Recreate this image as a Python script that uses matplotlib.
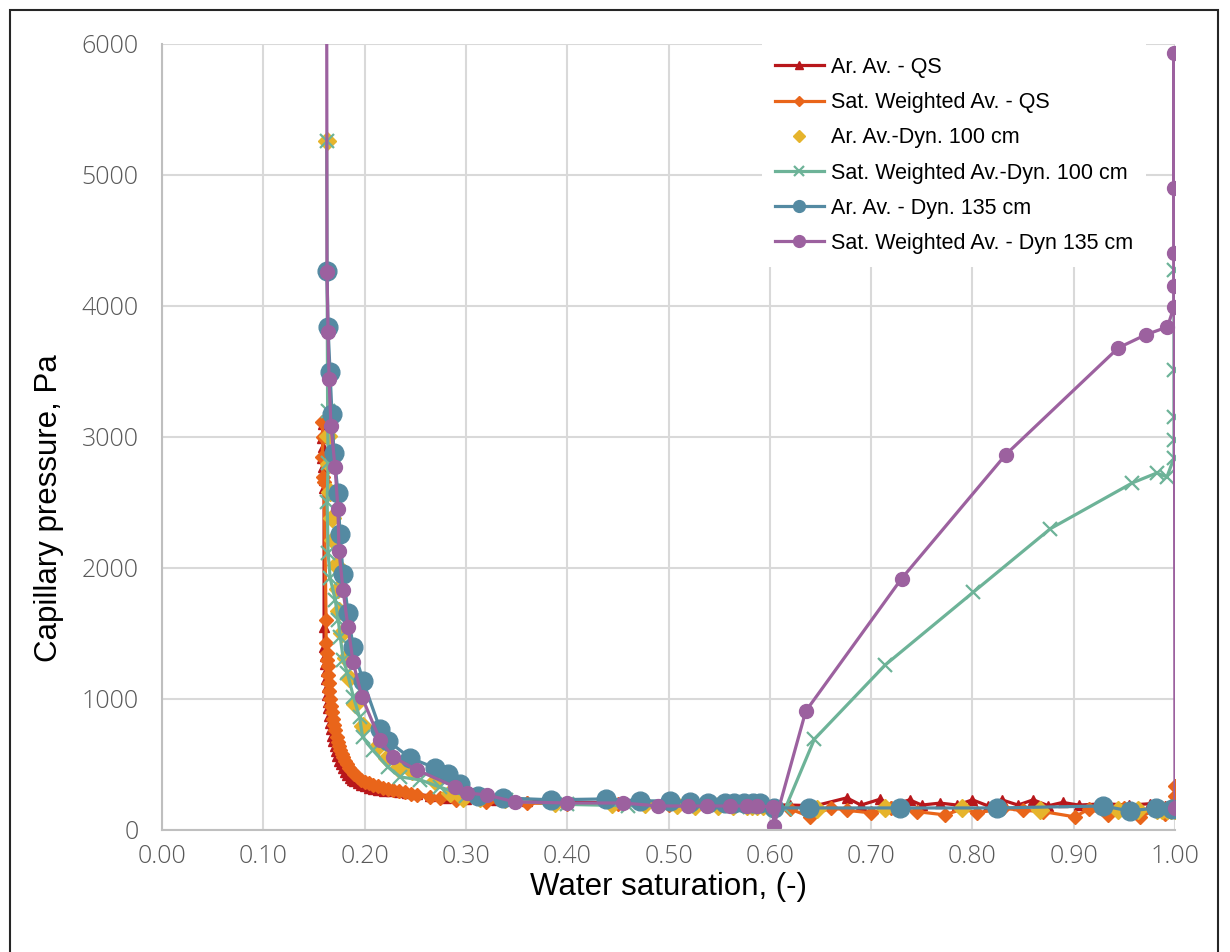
import matplotlib
matplotlib.use("Agg")
import matplotlib.pyplot as plt
from matplotlib.patches import Rectangle

# Ar. Av. - QS
qs_ar_sw = [0.159, 0.158, 0.159, 0.158, 0.159, 0.160, 0.160, 0.160, 0.160, 0.161,
            0.161, 0.162, 0.162, 0.163, 0.163, 0.164, 0.164, 0.165, 0.166, 0.167,
            0.168, 0.169, 0.171, 0.172, 0.173, 0.175, 0.177, 0.179, 0.181, 0.183,
            0.186, 0.188, 0.190, 0.193, 0.196, 0.200, 0.204, 0.208, 0.213, 0.219,
            0.226, 0.234, 0.242, 0.252, 0.265, 0.280, 0.300, 0.330, 0.360, 0.400,
            0.450, 0.500, 0.550, 0.600, 0.620, 0.645, 0.676, 0.690, 0.709, 0.720,
            0.738, 0.750, 0.768, 0.785, 0.800, 0.815, 0.829, 0.845, 0.860, 0.875,
            0.889, 0.905, 0.930, 0.955, 0.975, 0.990, 1.000]
qs_ar_pc = [3100, 2990, 2920, 2840, 2770, 2670, 2610, 1550, 1400, 1330,
            1270, 1210, 1150, 1090, 1030, 980, 930, 870, 820, 770,
            720, 680, 640, 600, 565, 530, 500, 470, 445, 420,
            400, 385, 370, 355, 342, 332, 322, 314, 306, 300,
            294, 288, 282, 272, 260, 245, 235, 228, 220, 212,
            208, 203, 198, 192, 190, 185, 245, 190, 235, 185,
            230, 190, 205, 190, 230, 185, 230, 190, 230, 185,
            210, 190, 200, 190, 200, 185, 190]

# Sat. Weighted Av. - QS
qs_sw_sw = [0.158, 0.159, 0.158, 0.159, 0.160, 0.162, 0.162, 0.163, 0.163, 0.164,
            0.164, 0.165, 0.165, 0.166, 0.167, 0.168, 0.169, 0.170, 0.171, 0.173,
            0.174, 0.175, 0.176, 0.178, 0.179, 0.181, 0.183, 0.185, 0.187, 0.190,
            0.193, 0.196, 0.200, 0.204, 0.208, 0.213, 0.218, 0.223, 0.228, 0.234,
            0.240, 0.246, 0.252, 0.265, 0.274, 0.290, 0.320, 0.360, 0.400, 0.450,
            0.500, 0.550, 0.600, 0.620, 0.640, 0.660, 0.676, 0.700, 0.720, 0.745,
            0.773, 0.790, 0.805, 0.830, 0.850, 0.870, 0.901, 0.915, 0.934, 0.950,
            0.965, 0.980, 0.990, 1.000, 1.000, 1.000]
qs_sw_pc = [3115, 3000, 2847, 2695, 2656, 1600, 1427, 1350, 1300, 1250,
            1180, 1120, 1060, 1000, 950, 900, 850, 800, 760, 710,
            675, 640, 610, 580, 557, 530, 500, 475, 455, 430,
            405, 385, 368, 355, 344, 332, 320, 312, 305, 297,
            288, 278, 267, 255, 244, 230, 215, 205, 200, 195,
            190, 185, 175, 160, 100, 170, 150, 130, 170, 140,
            115, 160, 130, 165, 150, 140, 100, 160, 115, 165,
            100, 150, 120, 150, 260, 336]

# Ar. Av.-Dyn. 100 cm (markers only)
d100_ar_sw = [0.1625, 0.164, 0.1649, 0.1658, 0.1678, 0.1688, 0.1718, 0.1737, 0.1747, 0.1777,
              0.1816, 0.1846, 0.1905, 0.1984, 0.2132, 0.2221, 0.2330, 0.2468, 0.2695, 0.284,
              0.297, 0.314, 0.339, 0.388, 0.444, 0.477, 0.508, 0.526, 0.549, 0.564,
              0.577, 0.582, 0.587, 0.593, 0.647, 0.714, 0.790, 0.867, 0.944, 0.963,
              0.982, 0.987, 0.992, 0.996, 1.000]
d100_ar_pc = [5260, 3005, 2790, 2577, 2385, 2210, 2026, 1843, 1674, 1506,
              1315, 1162, 963, 795, 642, 550, 474, 451, 375, 283,
              245, 245, 237, 206, 199, 199, 191, 185, 185, 185,
              185, 185, 185, 185, 161, 168, 168, 153, 153, 153,
              153, 153, 153, 153, 153]

# Sat. Weighted Av.-Dyn. 100 cm
d100_sw_sw = [0.1625, 0.1635, 0.164, 0.163, 0.164, 0.166, 0.171, 0.174, 0.176, 0.179,
              0.183, 0.189, 0.195, 0.198, 0.208, 0.223, 0.235, 0.255, 0.274, 0.300,
              0.340, 0.400, 0.460, 0.530, 0.580, 0.615, 0.644, 0.714, 0.801, 0.877,
              0.958, 0.982, 0.992, 0.999, 0.999, 0.999, 0.999, 0.999]
d100_sw_pc = [5260, 3200, 2800, 2500, 2115, 1924, 1756, 1603, 1473, 1298,
              1198, 1015, 862, 710, 610, 481, 405, 382, 328, 260,
              225, 195, 185, 180, 175, 160, 693, 1260, 1816, 2300,
              2650, 2725, 2695, 2840, 2977, 3153, 3511, 4275]

# Ar. Av. - Dyn. 135 cm
d135_ar_sw = [0.1629, 0.1639, 0.1659, 0.1678, 0.1698, 0.1737, 0.1757, 0.1787, 0.1836, 0.1886,
              0.1984, 0.2152, 0.2231, 0.2448, 0.2695, 0.2823, 0.2942, 0.3119, 0.3366, 0.3840,
              0.4383, 0.4719, 0.5015, 0.5212, 0.5390, 0.5558, 0.5650, 0.5750, 0.5830, 0.5900,
              0.6037, 0.6387, 0.7285, 0.8243, 0.9289, 0.9556, 0.9812, 0.9970]
d135_ar_pc = [4266, 3838, 3494, 3173, 2875, 2569, 2263, 1957, 1659, 1399,
              1139, 772, 680, 550, 474, 428, 352, 260, 245, 230,
              237, 222, 222, 215, 206, 206, 206, 206, 206, 206,
              168, 168, 168, 168, 183, 145, 168, 160]

# Sat. Weighted Av. - Dyn 135 cm
d135_sw_sw = [0.1625, 0.1629, 0.1639, 0.1649, 0.1668, 0.1708, 0.1737, 0.1747, 0.1787, 0.1836,
              0.1886, 0.1974, 0.2152, 0.2280, 0.2517, 0.2893, 0.3010, 0.3208, 0.3484, 0.4000,
              0.4550, 0.4896, 0.5192, 0.5380, 0.5610, 0.5770, 0.5870, 0.6030, 0.6040, 0.6355,
              0.7300, 0.8330, 0.9440, 0.9710, 0.9925, 0.9990, 0.9990, 0.9990, 0.9990, 0.9990,
              1.0000]
d135_sw_pc = [7000, 4260, 3802, 3443, 3084, 2771, 2450, 2130, 1832, 1550,
              1282, 1015, 687, 557, 458, 328, 282, 267, 214, 206,
              206, 183, 183, 183, 183, 183, 183, 176, 30, 907,
              1918, 2866, 3680, 3780, 3840, 3993, 4150, 4405, 4900, 5930,
              170]

fig = plt.figure(figsize=(12.3, 9.52), dpi=100)
ax = fig.add_axes([0.1317, 0.1282, 0.8236, 0.8256])

lw = 2.3
ax.plot(qs_ar_sw, qs_ar_pc, color='#b8171b', lw=lw, marker='^', ms=7.5,
        label='Ar. Av. - QS')
ax.plot(qs_sw_sw, qs_sw_pc, color='#e9651a', lw=lw, marker='D', ms=7,
        label='Sat. Weighted Av. - QS')
ax.plot(d100_ar_sw, d100_ar_pc, color='#e6b42c', lw=0, marker='D', ms=9.5,
        label='Ar. Av.-Dyn. 100 cm')
ax.plot(d100_sw_sw, d100_sw_pc, color='#6db398', lw=lw, marker='x', ms=10, mew=1.6,
        label='Sat. Weighted Av.-Dyn. 100 cm')
ax.plot(d135_ar_sw, d135_ar_pc, color='#548aa2', lw=lw, marker='o', ms=13.5,
        label='Ar. Av. - Dyn. 135 cm')
ax.plot(d135_sw_sw, d135_sw_pc, color='#9c619f', lw=lw, marker='o', ms=10,
        label='Sat. Weighted Av. - Dyn 135 cm')

ax.set_xlim(0, 1)
ax.set_ylim(0, 6000)
ax.set_xticks([i / 10 for i in range(11)])
ax.set_xticklabels(['%.2f' % (i / 10) for i in range(11)])
ax.set_yticks(range(0, 6001, 1000))

ax.grid(True, color='#d9d9d9', lw=1.5)
ax.set_axisbelow(True)
for side in ['top', 'right']:
    ax.spines[side].set_visible(False)
for side in ['left', 'bottom']:
    ax.spines[side].set_color('#bfbfbf')
    ax.spines[side].set_linewidth(1.5)

ax.tick_params(axis='both', length=0, labelcolor='#595959', labelsize=18)
ax.tick_params(axis='x', pad=10)
ax.tick_params(axis='y', pad=17)
for lab in ax.get_xticklabels() + ax.get_yticklabels():
    lab.set_fontfamily('Open Sans')
    lab.set_fontweight('light')

ax.set_xlabel('Water saturation, (-)', fontsize=22.5, family='Liberation Sans')
ax.set_ylabel('Capillary pressure, Pa', fontsize=22.5, family='Liberation Sans')
ax.xaxis.set_label_coords(0.5, -0.054)
ax.yaxis.set_label_coords(-0.097, 0.41)

leg = ax.legend(loc='upper left', bbox_to_anchor=(0.592, 1.0), borderaxespad=0,
                prop={'family': 'Liberation Sans', 'size': 15.5},
                frameon=True, fancybox=False, framealpha=1, edgecolor='none',
                handlelength=2.3, handletextpad=0.3, labelspacing=0.66, borderpad=0.6)
for h, ms in zip(leg.legend_handles, [6, 5, 6.5, 7.5, 8.5, 8.5]):
    h.set_markersize(ms)

# outer chart border
fig.patches.append(Rectangle((10 / 1230, -0.02), 1208 / 1230, 0.02 + 942 / 952,
                             transform=fig.transFigure, fill=False,
                             edgecolor='#262626', lw=1.5))

fig.savefig('out.png', dpi=100)
